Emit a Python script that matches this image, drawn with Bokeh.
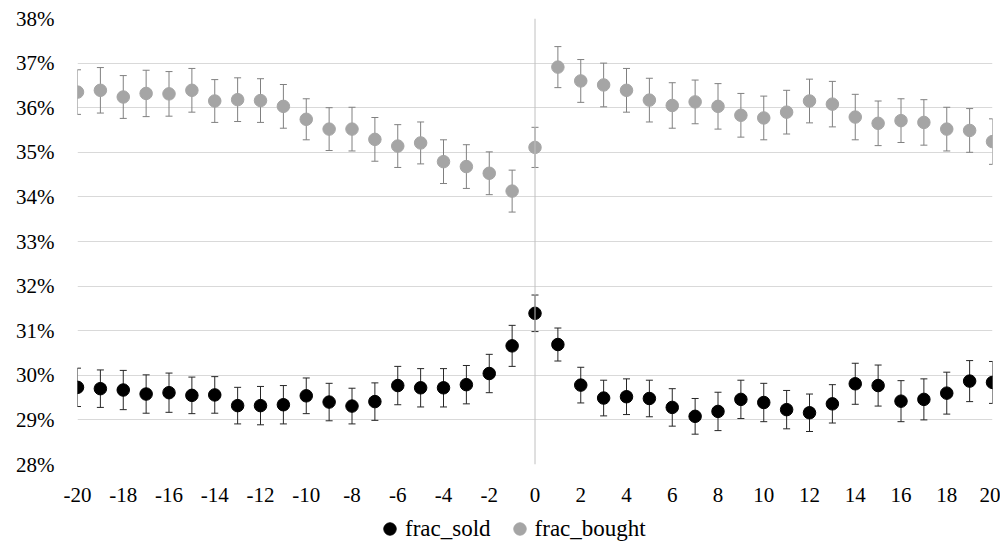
from bokeh.plotting import figure
from bokeh.layouts import column
from bokeh.models import (ColumnDataSource, Whisker, TeeHead, Span, Legend, LegendItem,
                          PrintfTickFormatter, FixedTicker, Range1d)
from bokeh.embed import file_html
from bokeh.resources import INLINE

days = list(range(-20, 21))
frac_sold = [29.73, 29.70, 29.67, 29.58, 29.61, 29.55, 29.56, 29.32, 29.32, 29.34,
             29.54, 29.40, 29.31, 29.41, 29.77, 29.72, 29.72, 29.79, 30.04, 30.66,
             31.39, 30.69, 29.78, 29.49, 29.52, 29.48, 29.28, 29.08, 29.19, 29.46,
             29.39, 29.23, 29.16, 29.36, 29.81, 29.77, 29.42, 29.46, 29.60, 29.87, 29.84]
err_sold = [0.43, 0.42, 0.44, 0.43, 0.44, 0.41, 0.41, 0.41, 0.43, 0.43,
            0.40, 0.42, 0.40, 0.42, 0.43, 0.43, 0.43, 0.43, 0.43, 0.46,
            0.41, 0.37, 0.40, 0.40, 0.40, 0.41, 0.42, 0.40, 0.43, 0.43,
            0.43, 0.43, 0.42, 0.43, 0.46, 0.46, 0.46, 0.46, 0.47, 0.46, 0.47]
frac_bought = [36.35, 36.39, 36.24, 36.32, 36.31, 36.39, 36.15, 36.18, 36.16, 36.03,
               35.74, 35.52, 35.52, 35.29, 35.14, 35.21, 34.79, 34.68, 34.53, 34.13,
               35.11, 36.91, 36.60, 36.51, 36.39, 36.17, 36.05, 36.13, 36.03, 35.83,
               35.77, 35.90, 36.15, 36.08, 35.79, 35.65, 35.71, 35.67, 35.52, 35.49, 35.24]
err_bought = [0.50, 0.51, 0.48, 0.52, 0.50, 0.49, 0.48, 0.49, 0.49, 0.49,
              0.46, 0.48, 0.49, 0.49, 0.48, 0.47, 0.49, 0.49, 0.48, 0.47,
              0.45, 0.46, 0.48, 0.49, 0.49, 0.49, 0.51, 0.49, 0.51, 0.49,
              0.49, 0.49, 0.49, 0.51, 0.51, 0.50, 0.49, 0.51, 0.49, 0.49, 0.51]
series_names = ["frac_sold", "frac_bought"]
x_ticks = list(range(-20, 21, 2))
y_ticks = list(range(28, 39))

FONT = "Liberation Serif"
C_SOLD = "#000000"
C_BOUGHT = "#a5a5a5"

src_s = ColumnDataSource(dict(x=days, y=frac_sold,
                              lo=[v - e for v, e in zip(frac_sold, err_sold)],
                              hi=[v + e for v, e in zip(frac_sold, err_sold)]))
src_b = ColumnDataSource(dict(x=days, y=frac_bought,
                              lo=[v - e for v, e in zip(frac_bought, err_bought)],
                              hi=[v + e for v, e in zip(frac_bought, err_bought)]))

p = figure(width=1000, height=512, output_backend="svg", toolbar_location=None,
           x_range=Range1d(-20, 20), y_range=Range1d(28, 38),
           min_border_left=77, min_border_right=8, min_border_top=18, min_border_bottom=48)
p.outline_line_color = None
p.background_fill_color = "white"
p.border_fill_color = "white"

p.xgrid.visible = False
p.ygrid.grid_line_color = "#d9d9d9"
p.ygrid.grid_line_width = 1

p.xaxis.ticker = FixedTicker(ticks=x_ticks)
p.xaxis.formatter = PrintfTickFormatter(format="%d")
p.yaxis.ticker = FixedTicker(ticks=y_ticks)
p.yaxis.formatter = PrintfTickFormatter(format="%d%%")
for ax in (p.xaxis[0], p.yaxis[0]):
    ax.axis_line_color = None
    ax.major_tick_line_color = None
    ax.minor_tick_line_color = None
    ax.major_label_text_font = FONT
    ax.major_label_text_font_size = "21px"
    ax.major_label_text_color = "#000000"
p.yaxis.major_label_standoff = 17
p.xaxis.major_label_standoff = 17

p.add_layout(Span(location=0, dimension="height", line_color="#c0c0c0", line_width=1))

wb = Whisker(source=src_b, base="x", upper="hi", lower="lo", dimension="height",
             line_color="#808080", line_width=1,
             upper_head=TeeHead(size=7, line_color="#808080", line_width=1),
             lower_head=TeeHead(size=7, line_color="#808080", line_width=1))
ws = Whisker(source=src_s, base="x", upper="hi", lower="lo", dimension="height",
             line_color="#262626", line_width=1,
             upper_head=TeeHead(size=7, line_color="#262626", line_width=1),
             lower_head=TeeHead(size=7, line_color="#262626", line_width=1))
p.add_layout(wb)
p.add_layout(ws)

p.scatter("x", "y", source=src_b, size=12.5, fill_color=C_BOUGHT, line_color=C_BOUGHT)
p.scatter("x", "y", source=src_s, size=12.5, fill_color=C_SOLD, line_color=C_SOLD)

# legend strip below the chart (swatch renderers sit outside the strip's visible range)
pl = figure(width=1000, height=33, output_backend="svg", toolbar_location=None,
            x_range=Range1d(0, 1), y_range=Range1d(0, 1),
            min_border_left=0, min_border_right=0, min_border_top=0, min_border_bottom=0)
pl.axis.visible = False
pl.grid.visible = False
pl.outline_line_color = None
pl.border_fill_color = "white"
swatch = ColumnDataSource(dict(x=[-5.0], y=[-5.0]))
lr_s = pl.scatter("x", "y", source=swatch, size=12.5, fill_color=C_SOLD, line_color=C_SOLD)
lr_b = pl.scatter("x", "y", source=swatch, size=12.5, fill_color=C_BOUGHT, line_color=C_BOUGHT)

legend = Legend(items=[LegendItem(label=series_names[0], renderers=[lr_s]),
                       LegendItem(label=series_names[1], renderers=[lr_b])],
                orientation="horizontal", location=(297, 1),
                label_text_font=FONT, label_text_font_size="23px", label_text_color="#000000",
                glyph_width=31, glyph_height=31, label_standoff=-8, spacing=13,
                padding=0, margin=0, border_line_color=None, background_fill_alpha=0)
pl.add_layout(legend, "center")

layout = column(p, pl, spacing=0)
open("out.html", "w").write(file_html(layout, INLINE))
